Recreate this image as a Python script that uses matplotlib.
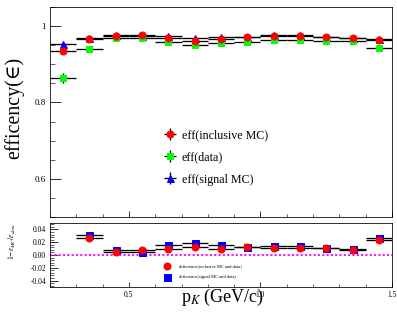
import numpy as np
import matplotlib
matplotlib.use('Agg')
import matplotlib.pyplot as plt
from matplotlib.ticker import MultipleLocator, AutoMinorLocator

plt.rcParams['font.family'] = ['Liberation Serif', 'DejaVu Serif']
plt.rcParams['mathtext.fontset'] = 'stix'

# bin centres of p_K (GeV/c)
pk = [0.25, 0.35, 0.45, 0.55, 0.65, 0.75, 0.85, 0.95, 1.05, 1.15, 1.25, 1.35, 1.45]
pk_err = [0.05] * 13

eff_incl = [0.936, 0.966, 0.974, 0.977, 0.969, 0.960, 0.967, 0.971, 0.974, 0.974, 0.971, 0.970, 0.963]
eff_incl_err = [0.004, 0.002, 0.002, 0.002, 0.002, 0.002, 0.002, 0.002, 0.002, 0.002, 0.002, 0.002, 0.002]
eff_data = [0.864, 0.939, 0.970, 0.968, 0.959, 0.950, 0.957, 0.958, 0.963, 0.963, 0.960, 0.960, 0.942]
eff_data_err = [0.014, 0.003, 0.002, 0.002, 0.002, 0.002, 0.002, 0.002, 0.002, 0.002, 0.002, 0.002, 0.003]
eff_sig = [0.953, 0.970, 0.977, 0.973, 0.973, 0.968, 0.971, 0.972, 0.976, 0.976, 0.971, 0.970, 0.966]
eff_sig_err = [0.005, 0.003, 0.003, 0.003, 0.003, 0.003, 0.003, 0.003, 0.003, 0.003, 0.003, 0.003, 0.003]

# lower pad: 1 - eff_MC/eff_data
pk_diff = [0.35, 0.45, 0.55, 0.65, 0.75, 0.85, 0.95, 1.05, 1.15, 1.25, 1.35, 1.45]
diff_incl = [0.027, 0.004, 0.008, 0.010, 0.012, 0.010, 0.013, 0.011, 0.011, 0.011, 0.008, 0.023]
diff_sig = [0.032, 0.008, 0.004, 0.015, 0.0195, 0.015, 0.013, 0.014, 0.014, 0.011, 0.009, 0.027]
diff_err = [0.002] * 12

W, H = 397, 313
fig = plt.figure(figsize=(W / 72, H / 72), dpi=72)
ax = fig.add_axes([50 / W, 1 - 217 / H, 342 / W, 210 / H])
ax2 = fig.add_axes([50 / W, 1 - 287 / H, 342 / W, 64 / H])

ekw = dict(ls='none', ecolor='black', elinewidth=1.3, capsize=0)
ax.errorbar(pk, eff_sig, xerr=pk_err, yerr=eff_sig_err, marker='^', ms=7, color='blue',
            label='eff(signal MC)', **ekw)
ax.errorbar(pk, eff_data, xerr=pk_err, yerr=eff_data_err, marker='s', ms=6.5, color='#00ff00',
            label='eff(data)', **ekw)
ax.errorbar(pk, eff_incl, xerr=pk_err, yerr=eff_incl_err, marker='o', ms=7, color='red',
            label='eff(inclusive MC)', **ekw)

ax.set_xlim(0.2, 1.5)
ax.set_ylim(0.5, 1.05)
ax.set_yticks([0.6, 0.8, 1.0])
ax.set_yticklabels(['0.6', '0.8', '1'])
ax.yaxis.set_minor_locator(MultipleLocator(0.05))
ax.xaxis.set_major_locator(MultipleLocator(0.5))
ax.xaxis.set_minor_locator(MultipleLocator(0.1))
ax.tick_params(axis='x', which='both', direction='in', labelbottom=False)
ax.tick_params(axis='x', which='major', length=6)
ax.tick_params(axis='x', which='minor', length=3)
ax.tick_params(axis='y', which='major', direction='in', length=11, labelsize=9, pad=4)
ax.tick_params(axis='y', which='minor', direction='in', length=5)
ax.set_ylabel('efficency(∈)', fontsize=20)
ax.yaxis.set_label_coords(-0.075, 0.52)

h, l = ax.get_legend_handles_labels()
ax.legend(h[::-1], l[::-1], loc='upper left', bbox_to_anchor=(0.29, 0.47), frameon=False,
          fontsize=12, handlelength=1.6, handletextpad=0.2, labelspacing=0.85)

ax2.errorbar(pk_diff, diff_sig, xerr=0.05, yerr=diff_err, marker='s', ms=7, color='blue',
             label='difference(signal MC and data)', **ekw)
ax2.errorbar(pk_diff, diff_incl, xerr=0.05, yerr=diff_err, marker='o', ms=7, color='red',
             label='difference(inclusive MC and data)', **ekw)
ax2.axhline(0, color='#ff00ff', ls=(0, (1.2, 1.2)), lw=1.8)
ax2.set_xlim(0.2, 1.5)
ax2.set_ylim(-0.05, 0.05)
ax2.set_yticks([-0.04, -0.02, 0.0, 0.02, 0.04])
ax2.set_yticklabels(['-0.04', '-0.02', '0.00', '0.02', '0.04'])
ax2.yaxis.set_minor_locator(AutoMinorLocator(5))
ax2.xaxis.set_major_locator(MultipleLocator(0.5))
ax2.xaxis.set_minor_locator(MultipleLocator(0.1))
ax2.set_xticklabels([])
ax2.tick_params(axis='x', which='major', direction='in', length=5)
ax2.tick_params(axis='x', which='minor', direction='in', length=3)
ax2.tick_params(axis='y', which='major', direction='in', length=8, labelsize=7.5, pad=4)
ax2.tick_params(axis='y', which='minor', direction='in', length=4)
for xv, lab in [(0.5, '0.5'), (1.0, '1.0'), (1.5, '1.5')]:
    ax2.text(xv, -0.056, lab, ha='center', va='top', fontsize=7.5)
ax2.set_ylabel(r'$1\!-\!\epsilon_{MC}/\epsilon_{data}$', fontsize=7.5)
ax2.yaxis.set_label_coords(-0.095, 0.72)
h2, l2 = ax2.get_legend_handles_labels()
ax2.legend(h2[::-1], l2[::-1], loc='upper left', bbox_to_anchor=(0.305, 0.42), frameon=False,
           fontsize=4.5, handlelength=4, handletextpad=0.6, labelspacing=1.55)

fig.text(223 / W, 1 - 297 / H, r'p$_{K}$ (GeV/c)', ha='center', va='center', fontsize=18)

fig.savefig('out.png', dpi=72)
